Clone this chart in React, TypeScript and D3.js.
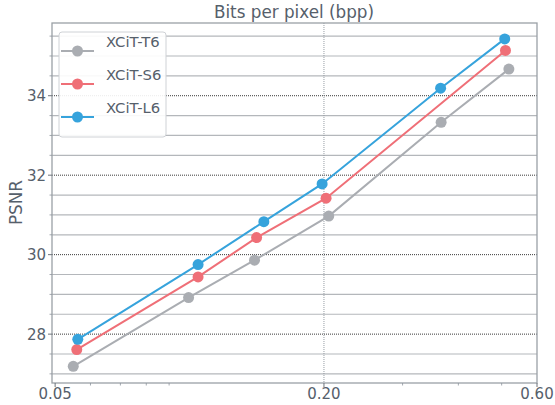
import React from "react";
import { scaleLog, scaleLinear, line } from "d3";

const seriesNames = ["XCiT-T6", "XCiT-S6", "XCiT-L6"];
const seriesColors = ["#aaadb2", "#ef6f77", "#36a3dc"];

const t6Bpp = [0.0549, 0.0995, 0.1398, 0.205, 0.366, 0.519];
const t6Psnr = [27.19, 28.92, 29.86, 30.97, 33.33, 34.67];
const s6Bpp = [0.0559, 0.1045, 0.1413, 0.2022, 0.51];
const s6Psnr = [27.61, 29.44, 30.43, 31.42, 35.14];
const l6Bpp = [0.0562, 0.1045, 0.1467, 0.1981, 0.365, 0.508];
const l6Psnr = [27.87, 29.75, 30.83, 31.78, 34.19, 35.43];

const xTickLabels = [0.05, 0.2, 0.6];
const xMinorTicks = [0.06, 0.07, 0.08, 0.09, 0.3, 0.4, 0.5];
const yTicks = [28, 30, 32, 34];
const yMinorTicks = [27, 27.5, 28.5, 29, 29.5, 30.5, 31, 31.5, 32.5, 33, 33.5, 34.5, 35, 35.5];

const W = 555;
const H = 405;
const left = 52;
const right = 537;
const top = 23;
const bottom = 383;
const textColor = "#56606b";
const font = "DejaVu Sans, sans-serif";

export default function App() {
  const x = scaleLog().domain([0.0492, 0.6]).range([left, right]);
  const y = scaleLinear().domain([26.77, 35.83]).range([bottom, top]);

  const series = [
    { name: seriesNames[0], color: seriesColors[0], xs: t6Bpp, ys: t6Psnr },
    { name: seriesNames[1], color: seriesColors[1], xs: s6Bpp, ys: s6Psnr },
    { name: seriesNames[2], color: seriesColors[2], xs: l6Bpp, ys: l6Psnr },
  ];

  const path = line<[number, number]>()
    .x((d) => x(d[0]))
    .y((d) => y(d[1]));

  return (
    <svg
      width={W}
      height={H}
      style={{ position: "absolute", left: 0, top: 0, fontFamily: font }}
    >
      <rect x={0} y={0} width={W} height={H} fill="#fff" />

      {/* minor horizontal grid */}
      {yMinorTicks.map((v) => (
        <line
          key={"ym" + v}
          x1={left}
          x2={right}
          y1={y(v)}
          y2={y(v)}
          stroke="#b4b7bb"
          strokeWidth={1.2}
        />
      ))}
      {/* major horizontal grid */}
      {yTicks.map((v) => (
        <line
          key={"yg" + v}
          x1={left}
          x2={right}
          y1={y(v)}
          y2={y(v)}
          stroke="#222"
          strokeWidth={0.9}
          strokeDasharray="1,1"
        />
      ))}
      {/* vertical grid at 0.20 */}
      <line
        x1={x(0.2)}
        x2={x(0.2)}
        y1={top}
        y2={bottom}
        stroke="#8c939c"
        strokeWidth={0.9}
        strokeDasharray="1,1"
      />

      {/* frame */}
      <rect
        x={left}
        y={top}
        width={right - left}
        height={bottom - top}
        fill="none"
        stroke="#9aa0a6"
        strokeWidth={1.3}
      />

      {/* y ticks */}
      {yMinorTicks.map((v) => (
        <line key={"ymt" + v} x1={left - 2.5} x2={left} y1={y(v)} y2={y(v)} stroke="#8c939c" strokeWidth={0.8} />
      ))}
      {yTicks.map((v) => (
        <g key={"yt" + v}>
          <line x1={left - 4} x2={left} y1={y(v)} y2={y(v)} stroke="#6c737b" strokeWidth={1} />
          <text
            x={left - 6}
            y={y(v)}
            dy="0.36em"
            textAnchor="end"
            fontSize={15}
            fill={textColor}
          >
            {v}
          </text>
        </g>
      ))}

      {/* x ticks */}
      {xMinorTicks.map((v) => (
        <line key={"xmt" + v} x1={x(v)} x2={x(v)} y1={bottom} y2={bottom + 2.5} stroke="#8c939c" strokeWidth={0.8} />
      ))}
      {xTickLabels.map((v) => (
        <g key={"xt" + v}>
          <line x1={x(v)} x2={x(v)} y1={bottom} y2={bottom + 4} stroke="#6c737b" strokeWidth={1} />
          <text x={x(v)} y={bottom + 16} textAnchor="middle" fontSize={15} fill={textColor}>
            {v.toFixed(2)}
          </text>
        </g>
      ))}

      {/* axis titles */}
      <text x={294} y={18} textAnchor="middle" fontSize={16.8} fill={textColor}>
        Bits per pixel (bpp)
      </text>
      <text
        transform={`translate(22,202.5) rotate(-90)`}
        textAnchor="middle"
        fontSize={16.8}
        fill={textColor}
      >
        PSNR
      </text>

      {/* series */}
      {series.map((s) => {
        const pts = s.xs.map((v, i) => [v, s.ys[i]] as [number, number]);
        return (
          <g key={s.name}>
            <path d={path(pts) || ""} fill="none" stroke={s.color} strokeWidth={2} />
            {pts.map((p, i) => (
              <circle key={i} cx={x(p[0])} cy={y(p[1])} r={5.5} fill={s.color} />
            ))}
          </g>
        );
      })}

      {/* legend */}
      <g>
        <rect
          x={59}
          y={32}
          width={107}
          height={105}
          rx={3}
          fill="#fff"
          fillOpacity={0.9}
          stroke="#cfd2d6"
          strokeWidth={1}
        />
        {series.map((s, i) => {
          const ly = 51 + i * 33;
          return (
            <g key={"lg" + s.name}>
              <line x1={61} x2={94} y1={ly} y2={ly} stroke={s.color} strokeWidth={2} />
              <circle cx={77.5} cy={ly} r={5.5} fill={s.color} />
              <text x={106} y={ly - 4.5} fontSize={14.8} fill={textColor}>
                {s.name}
              </text>
            </g>
          );
        })}
      </g>
    </svg>
  );
}
